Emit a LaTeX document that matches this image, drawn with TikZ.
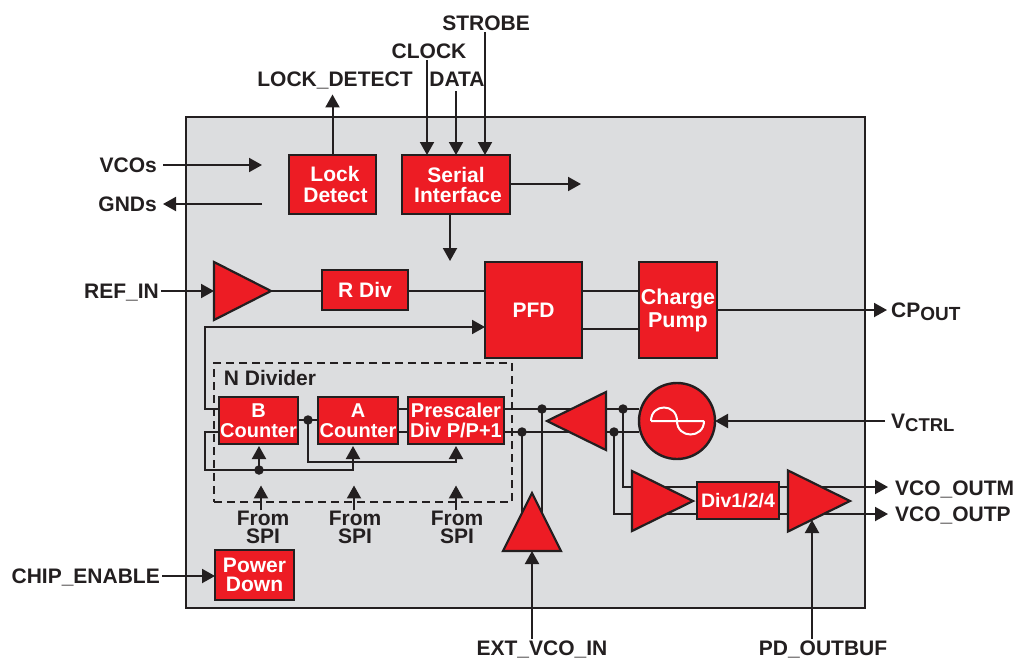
\documentclass[tikz,border=0pt]{standalone}
\usepackage{fontspec}
\setmainfont{Liberation Sans}
\usepackage{xcolor}
\usepackage{tikz}
\usetikzlibrary{positioning,arrows.meta,calc,backgrounds,shapes.geometric}
\definecolor{chipbg}{RGB}{220,221,223}
\definecolor{blockred}{RGB}{237,28,36}
\definecolor{ink}{RGB}{35,31,32}
\tikzset{
  blk/.style={draw=ink,line width=2.4pt,fill=blockred,text=white,align=center,inner sep=0pt,outer sep=0pt,
    font=\fontsize{21}{21.5}\selectfont\bfseries},
  cnt/.style={blk,font=\fontsize{20}{20}\selectfont\bfseries,minimum height=47pt},
  amp/.style={draw=ink,line width=2.2pt,fill=blockred,isosceles triangle,isosceles triangle stretches,
    inner sep=0pt,outer sep=0pt,anchor=apex},
  lbl/.style={text=ink,font=\fontsize{21}{22}\selectfont\bfseries,inner sep=2pt,text height=14.5pt,text depth=0pt},
  spi/.style={text=ink,font=\fontsize{21}{18}\selectfont\bfseries,align=center,inner sep=0pt},
  dot/.style={circle,fill=ink,inner sep=0pt,minimum size=9.5pt},
  wire/.style={draw=ink,line width=2pt},
  ar/.style={wire,-{Triangle[length=13pt,width=14pt]}},
}
\begin{document}
\begin{tikzpicture}[x=1pt,y=-1pt]
  \useasboundingbox (0,0) rectangle (1016,658);
  % chip outline goes under everything
  \begin{scope}[on background layer]
    \draw[draw=ink,line width=2.4pt,fill=chipbg] (186,117) rectangle (865,608);
  \end{scope}
  % blocks
  \node[blk,minimum width=87pt,minimum height=59pt] (lock) at (332.5,184.5) {\hspace*{5pt}Lock\\\hspace*{6pt}Detect};
  \node[blk,font=\fontsize{21}{20}\selectfont\bfseries,minimum width=108pt,minimum height=59pt] (serial) at (456,184.5) {Serial\\\hspace*{4pt}Interface};
  \node[blk,minimum width=86pt,minimum height=40pt] (rdiv) at (365,290) {R Div};
  \node[blk,minimum width=97pt,minimum height=96pt] (pfd) at (533.5,310) {PFD};
  \node[blk,font=\fontsize{21.5}{23}\selectfont\bfseries,minimum width=78pt,minimum height=96pt] (pump) at (678,310) {Charge\\Pump};
  \node[cnt,minimum width=79pt] (bcnt) at (258.5,420.5) {B\\Counter};
  \node[cnt,minimum width=80pt] (acnt) at (358,420.5) {A\\Counter};
  \node[cnt,minimum width=96pt] (pres) at (456,420.5) {Prescaler\\Div P/P+1};
  \node[blk,font=\fontsize{21}{18.5}\selectfont\bfseries,minimum width=79pt,minimum height=50pt] (pdown) at (254.5,575) {Power\\Down};
  \node[blk,font=\fontsize{19.5}{20}\selectfont\bfseries,minimum width=82pt,minimum height=37pt] (div) at (738,500.5) {Div1/2/4};
  \node[blk,circle,minimum size=76pt] (vco) at (677,421) {};
  % amplifiers, placed by their tips
  \node[amp,minimum width=58pt,minimum height=57pt] (refamp) at (271,291) {};
  \node[amp,shape border rotate=180,minimum width=58pt,minimum height=59pt] (fbamp) at (547,421) {};
  \node[amp,minimum width=60pt,minimum height=61pt] (drvamp) at (693,501) {};
  \node[amp,minimum width=61pt,minimum height=62pt] (outamp) at (850,501) {};
  \node[amp,shape border rotate=90,minimum width=58pt,minimum height=58pt] (extamp) at (532,493) {};
  % sine
  \draw[white,line width=2pt] ([xshift=-26pt]vco.center) -- ([xshift=27pt]vco.center)
    ([xshift=-26pt]vco.center) .. controls ([xshift=-26pt,yshift=18pt]vco.center) and ([xshift=0pt,yshift=18pt]vco.center) .. (vco.center)
    (vco.center) .. controls ([xshift=0pt,yshift=-18pt]vco.center) and ([xshift=27pt,yshift=-18pt]vco.center) .. ([xshift=27pt]vco.center);
  % labels
  \node[lbl] (lockdet) at (335,79) {LOCK\_DETECT};
  \node[lbl] (clock) at (429,51) {CLOCK};
  \node[lbl] (data) at (457,79) {DATA};
  \node[lbl] (strobe) at (486,23) {STROBE};
  \node[lbl,anchor=east,inner xsep=6pt] (vcos) at (163,165) {VCOs};
  \node[lbl,anchor=east,inner xsep=6pt] (gnds) at (163,204) {GNDs};
  \node[lbl,anchor=east] (refin) at (161,291) {REF\_IN};
  \node[lbl,anchor=east] (chipen) at (162,576) {CHIP\_ENABLE};
  \node[lbl,anchor=west,inner xsep=4pt] (cpout) at (887,310) {CP\raisebox{-3.5pt}{\fontsize{19}{19}\selectfont OUT}};
  \node[lbl,anchor=west,inner xsep=6pt] (vctrl) at (885,421) {V\raisebox{-3.5pt}{\fontsize{18.5}{19}\selectfont CTRL}};
  \node[lbl,anchor=west,inner xsep=7pt] (outm) at (888,488) {VCO\_OUTM};
  \node[lbl,anchor=west,inner xsep=7pt] (outp) at (888,514) {VCO\_OUTP};
  \node[lbl] (extin) at (542,648) {EXT\_VCO\_IN};
  \node[lbl] (pdbuf) at (823,648) {PD\_OUTBUF};
  \node[spi] (spia) at (263,527) {From\\SPI};
  \node[spi] (spib) at (355,527) {From\\SPI};
  \node[spi] (spic) at (457,527) {From\\SPI};
  % N divider frame
  \node[draw=ink,line width=2pt,dash pattern=on 8pt off 5pt,minimum width=298pt,minimum height=139pt,inner sep=0pt] (ndiv) at (363,432.5) {};
  \node[lbl] (ndivt) at (270,378) {N Divider};
  % free ends
  \coordinate (vccend) at (262,165);
  \coordinate (gndend) at (262,204);
  \coordinate (serout) at (581,184);
  \coordinate (serdown) at (450,261);
  \coordinate (presin) at (456,462);
  % junctions
  \node[dot] (jb) at (259,470) {};
  \node[dot] (jab) at (308,420) {};
  \node[dot] (ja) at (542,409) {};
  \node[dot] (jc) at (522,432) {};
  \node[dot] (jd) at (623,409) {};
  \node[dot] (je) at (614,432) {};
  % connectors
  \begin{scope}[on background layer]
    \draw[ar] (lock.north) -- ([yshift=-6pt]lock.north |- lockdet.south);
    \draw[ar] (427,0 |- clock.south) -- (427,0 |- serial.north);
    \draw[ar,shorten <=3pt] (456,0 |- data.south) -- (456,0 |- serial.north);
    \draw[ar] (485,0 |- strobe.south) -- (485,0 |- serial.north);
    \draw[ar] (vcos.east) -- (vccend);
    \draw[ar] (gndend) -- (gnds.east);
    \draw[ar] (serial.east |- serout) -- (serout);
    \draw[ar] (serdown |- serial.south) -- (serdown);
    \draw[ar] (refin.east) -- (refamp.lower side);
    \draw[wire] (refamp.apex) -- (rdiv.west |- refamp.apex);
    \draw[wire] (rdiv.east |- refamp.apex) -- (pfd.west |- refamp.apex);
    \draw[wire] ([yshift=19pt]pfd.east) -- ([yshift=19pt]pump.west);
    \draw[wire] ([yshift=-19pt]pfd.east) -- ([yshift=-19pt]pump.west);
    \draw[ar] (pump.east) -- (cpout.west);
    \draw[ar] ([yshift=11.5pt]bcnt.west) -- ++(-14,0) |- ([yshift=-17pt]pfd.west);
    \draw[ar,shorten >=2pt] ([yshift=-11.5pt]bcnt.west) -- ++(-14,0) |- (jb.center) -| ([xshift=-5pt]acnt.south);
    \draw[ar,shorten >=2pt] (jb.center) -- (jb |- bcnt.south);
    \draw[wire] (bcnt.east |- jab) -- (acnt.west |- jab);
    \draw[ar,shorten >=2pt] (jab.center) |- (presin) -- (presin |- pres.south);
    \draw[wire] ([yshift=11.5pt]acnt.east) -- ([yshift=11.5pt]pres.west);
    \draw[wire] ([yshift=-11.5pt]acnt.east) -- ([yshift=-11.5pt]pres.west);
    \draw[ar] ([xshift=-2pt]spia.north) -- ++(0,-25);
    \draw[ar] ([xshift=-1pt]spib.north) -- ++(0,-25);
    \draw[ar] ([xshift=-1pt]spic.north) -- ++(0,-25);
    \draw[wire] (pres.east |- ja) -- (vco.west |- ja);
    \draw[wire] (pres.east |- jc) -- (vco.west |- jc);
    \draw[wire] (ja.center) -- (ja |- extamp.lower side);
    \draw[wire] (jc.center) -- (jc |- extamp.lower side);
    \draw[wire] (jd.center) |- ([yshift=13.5pt]div.west);
    \draw[wire] (je.center) |- ([yshift=-13.5pt]div.west);
    \draw[ar] ([yshift=13.5pt]div.east) -- ([yshift=13.5pt]div.east -| outm.west);
    \draw[ar] ([yshift=-13.5pt]div.east) -- ([yshift=-13.5pt]div.east -| outp.west);
    \draw[ar] (vctrl.west) -- (vco.east);
    \draw[ar] (chipen.east) -- (pdown.west |- chipen);
    \draw[ar] (extamp.lower side |- extin.north) -- (extamp.lower side);
    \draw[ar] (812,0 |- pdbuf.north) -- (812,520);
  \end{scope}
\end{tikzpicture}
\end{document}
